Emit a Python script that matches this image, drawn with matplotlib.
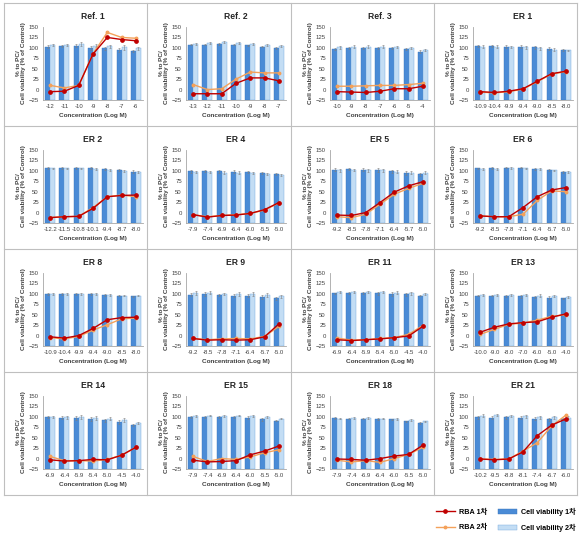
import matplotlib.pyplot as plt
from matplotlib.lines import Line2D
from matplotlib.patches import Patch

plt.rcParams['font.family'] = ['Liberation Sans', 'Noto Sans CJK KR']

# 패널 제목
titles = ['Ref. 1', 'Ref. 2', 'Ref. 3', 'ER 1',
          'ER 2', 'ER 4', 'ER 5', 'ER 6',
          'ER 8', 'ER 9', 'ER 11', 'ER 13',
          'ER 14', 'ER 15', 'ER 18', 'ER 21']

# 농도 (Log M) 라벨
conc = [
    ['-12', '-11', '-10', '-9', '-8', '-7', '-6'],
    ['-13', '-12', '-11', '-10', '-9', '-8', '-7'],
    ['-10', '-9', '-8', '-7', '-6', '-5', '-4'],
    ['-10.9', '-10.4', '-9.9', '-9.4', '-9.0', '-8.5', '-8.0'],
    ['-12.2', '-11.5', '-10.8', '-10.1', '-9.4', '-8.7', '-8.0'],
    ['-7.9', '-7.4', '-6.9', '-6.4', '-6.0', '-5.5', '-5.0'],
    ['-9.2', '-8.5', '-7.8', '-7.1', '-6.4', '-5.7', '-5.0'],
    ['-9.2', '-8.5', '-7.8', '-7.1', '-6.4', '-5.7', '-5.0'],
    ['-10.9', '-10.4', '-9.9', '-9.4', '-9.0', '-8.5', '-8.0'],
    ['-9.2', '-8.5', '-7.8', '-7.1', '-6.4', '-5.7', '-5.0'],
    ['-6.9', '-6.4', '-5.9', '-5.4', '-5.0', '-4.5', '-4.0'],
    ['-10.0', '-9.0', '-8.0', '-7.0', '-6.0', '-5.0', '-4.0'],
    ['-6.9', '-6.4', '-5.9', '-5.4', '-5.0', '-4.5', '-4.0'],
    ['-7.9', '-7.4', '-6.9', '-6.4', '-6.0', '-5.5', '-5.0'],
    ['-7.9', '-7.4', '-6.9', '-6.4', '-6.0', '-5.5', '-5.0'],
    ['-10.2', '-9.5', '-8.8', '-8.1', '-7.4', '-6.7', '-6.0'],
]

# Cell viability 1차 / 2차 (% of Control)
cv1 = [
    [103, 104, 105, 100, 99, 95, 93],
    [108, 108, 110, 108, 106, 103, 100],
    [97, 100, 100, 100, 100, 97, 91],
    [104, 104, 103, 103, 101, 98, 95],
    [107, 107, 107, 107, 104, 102, 98],
    [99, 99, 99, 98, 98, 95, 92],
    [103, 104, 103, 102, 99, 95, 92],
    [106, 107, 108, 108, 105, 102, 98],
    [99, 100, 100, 100, 98, 96, 94],
    [98, 100, 97, 96, 96, 92, 89],
    [101, 102, 102, 101, 100, 99, 96],
    [96, 96, 95, 94, 92, 91, 89],
    [99, 98, 97, 94, 92, 87, 80],
    [100, 100, 100, 99, 98, 94, 91],
    [97, 96, 96, 95, 94, 89, 85],
    [99, 98, 99, 98, 96, 94, 95],
]
cv2 = [
    [107, 107, 109, 105, 104, 101, 99],
    [110, 111, 114, 112, 110, 107, 104],
    [101, 103, 103, 103, 102, 100, 95],
    [103, 103, 102, 101, 99, 96, 94],
    [106, 106, 106, 105, 102, 100, 97],
    [97, 97, 96, 96, 95, 93, 90],
    [101, 102, 101, 101, 98, 96, 96],
    [104, 105, 107, 106, 104, 101, 97],
    [99, 99, 99, 99, 98, 96, 96],
    [102, 103, 100, 100, 100, 97, 94],
    [104, 104, 104, 104, 103, 101, 100],
    [98, 98, 98, 97, 96, 95, 93],
    [99, 99, 100, 98, 96, 92, 85],
    [102, 103, 102, 103, 102, 100, 96],
    [96, 97, 97, 96, 95, 92, 89],
    [103, 104, 102, 101, 99, 99, 98],
]
# 오차 (SD)
cv_err = [
    [3, 3, 4, 4, 4, 5, 3],
    [2, 2, 2, 2, 2, 2, 2],
    [3, 3, 3, 3, 2, 3, 3],
    [3, 3, 3, 3, 3, 3, 2],
    [2, 2, 2, 3, 3, 2, 3],
    [3, 2, 3, 3, 2, 3, 3],
    [3, 3, 3, 4, 4, 4, 4],
    [2, 2, 2, 2, 2, 2, 2],
    [2, 2, 2, 2, 2, 2, 2],
    [4, 4, 3, 4, 4, 5, 3],
    [2, 2, 2, 3, 4, 3, 2],
    [2, 2, 2, 3, 3, 3, 2],
    [2, 3, 4, 5, 4, 5, 3],
    [2, 2, 2, 2, 3, 3, 2],
    [2, 2, 2, 2, 2, 2, 2],
    [3, 3, 3, 3, 4, 4, 3],
]

# RBA 1차 / 2차 (% to PC)
rba1 = [
    [-5, -4, 10, 85, 125, 120, 117],
    [-10, -10, -10, 15, 28, 28, 21],
    [-5, -6, -7, -4, 2, 2, 8],
    [-5, -7, -4, 2, 20, 38, 44],
    [-12, -10, -9, 10, 38, 41, 42],
    [-5, -11, -7, -6, -2, 7, 24],
    [-6, -7, 0, 24, 49, 64, 74],
    [-8, -10, -10, 12, 38, 54, 60],
    [-3, -6, 0, 17, 38, 43, 44],
    [-7, -11, -10, -11, -10, -3, 28],
    [-10, -12, -10, -8, -5, -1, 22],
    [8, 20, 28, 31, 33, 44, 52],
    [-3, -6, -5, -2, -3, 8, 27],
    [-4, -8, -7, -5, 9, 18, 30],
    [-1, -2, -4, 0, 6, 10, 32],
    [-1, -3, -1, 16, 55, 80, 95],
]
rba2 = [
    [10, 4, 10, 86, 137, 125, 123],
    [12, 0, 2, 25, 42, 40, 40],
    [8, 8, 9, 10, 10, 12, 15],
    [-6, -8, -5, 1, 19, 37, 43],
    [-12, -10, -9, 12, 38, 42, 38],
    [-5, -10, -7, -5, -2, 6, 23],
    [-10, -12, -4, 20, 44, 58, 70],
    [-8, -10, -10, -4, 29, 52, 50],
    [-5, -8, -2, 13, 26, 40, 42],
    [-7, -10, -8, -7, -8, -2, 22],
    [-6, -11, -10, -7, -5, 3, 24],
    [3, 15, 27, 30, 37, 46, 50],
    [5, -5, -5, -6, -2, 8, 27],
    [5, -7, 0, -2, 4, 14, 21],
    [-4, -8, -5, -9, 0, 10, 27],
    [-1, -2, -1, 18, 38, 78, 104],
]

W, H = 585, 542
fig = plt.figure(figsize=(W / 100, H / 100), dpi=100)

col_x = [4, 147, 291, 434, 577]
row_y = [3, 126, 249, 372, 495]

dark_blue = '#4A8BD6'
light_blue = '#C3DDF4'
red = '#C00000'
orange = '#F4A15A'
grid_gray = '#BFBFBF'


def fx(x):
    return x / W


def fy(y):
    return 1 - y / H


# 표 테두리
for x in col_x:
    fig.add_artist(Line2D([fx(x), fx(x)], [fy(row_y[0]), fy(row_y[-1])],
                          color=grid_gray, lw=0.8))
for y in row_y:
    fig.add_artist(Line2D([fx(col_x[0]), fx(col_x[-1])], [fy(y), fy(y)],
                          color=grid_gray, lw=0.8))

bw = 0.35
for i, title in enumerate(titles):
    r, c = divmod(i, 4)
    left = col_x[c] + 39
    top = row_y[r] + 24
    ax = fig.add_axes([fx(left), fy(top + 73), 100 / W, 73 / H])
    x = list(range(7))
    h1 = [v + 25 for v in cv1[i]]
    h2 = [v + 25 for v in cv2[i]]
    ax.bar([k - bw / 2 for k in x], h1, bw, bottom=-25, color=dark_blue,
           edgecolor='#3A75BA', lw=0.3, zorder=2)
    ax.bar([k + bw / 2 for k in x], h2, bw, bottom=-25, color=light_blue,
           edgecolor='#6FA6DC', lw=0.3, zorder=2)
    ax.errorbar([k - bw / 2 for k in x], cv1[i], yerr=cv_err[i], fmt='none',
                ecolor='#7F7F7F', elinewidth=0.4, capsize=0.8, capthick=0.4, zorder=3)
    ax.errorbar([k + bw / 2 for k in x], cv2[i], yerr=cv_err[i], fmt='none',
                ecolor='#7F7F7F', elinewidth=0.4, capsize=0.8, capthick=0.4, zorder=3)
    ax.plot(x, rba2[i], color=orange, lw=1.0, marker='o', ms=1.8, zorder=4)
    ax.plot(x, rba1[i], color=red, lw=1.0, marker='o', ms=2.4, zorder=5)

    ax.set_xlim(-0.5, 6.5)
    ax.set_ylim(-25, 150)
    ax.set_yticks(range(-25, 151, 25))
    ax.set_xticks(x)
    ax.set_xticklabels(conc[i])
    ax.tick_params(axis='both', labelsize=4.3, length=0, pad=3, colors='#404040')
    for s in ['top', 'right']:
        ax.spines[s].set_visible(False)
    for s in ['left', 'bottom']:
        ax.spines[s].set_color('#A6A6A6')
        ax.spines[s].set_linewidth(0.6)
    ax.set_title(title, fontsize=6.2, fontweight='bold', pad=6, color='#262626')
    ax.set_xlabel('Concentration (Log M)', fontsize=4.6, fontweight='bold',
                  labelpad=2.5, color='#404040')
    ax.set_ylabel('% to PC/\nCell viability (% of Control)', fontsize=4.6,
                  fontweight='bold', labelpad=2, color='#404040', linespacing=1.0)

handles = [
    Line2D([], [], color=red, lw=1.0, marker='o', ms=2.4),
    Line2D([], [], color=orange, lw=1.0, marker='o', ms=1.8),
    Patch(facecolor=dark_blue, edgecolor='#3A75BA', lw=0.3),
    Patch(facecolor=light_blue, edgecolor='#6FA6DC', lw=0.3),
]
labels = ['RBA 1차', 'RBA 2차', 'Cell viability 1차', 'Cell viability 2차']
fig.legend(handles, labels, ncol=2, loc='center', bbox_to_anchor=(fx(506), fy(520)),
           frameon=False, handlelength=2.6, columnspacing=1.5,
           handletextpad=0.6, labelspacing=1.2,
           prop={'weight': 'bold', 'size': 5.2})

fig.savefig('out.png', dpi=100)
